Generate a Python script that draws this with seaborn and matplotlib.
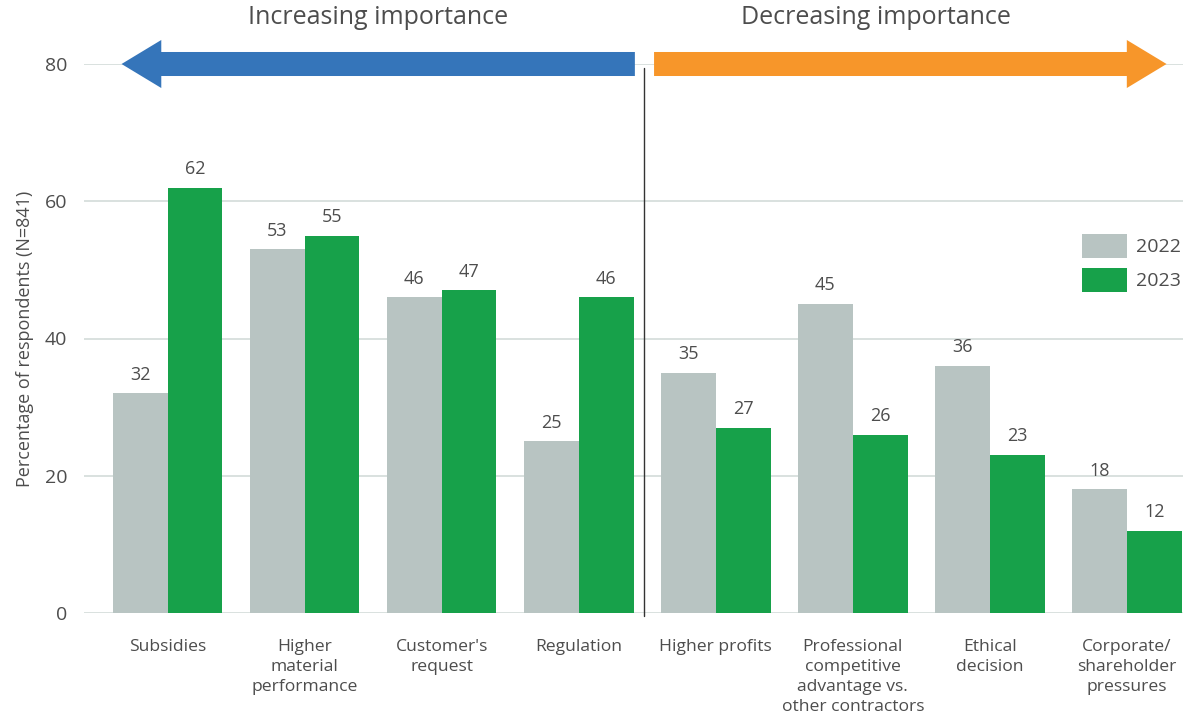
import matplotlib
matplotlib.use("Agg")
import matplotlib.pyplot as plt
from matplotlib.patches import FancyArrow, Patch
import seaborn as sns
import pandas as pd

# Motivations for sustainable choices, share of respondents per year
categories = [
    "Subsidies",
    "Higher\nmaterial\nperformance",
    "Customer's\nrequest",
    "Regulation",
    "Higher profits",
    "Professional\ncompetitive\nadvantage vs.\nother contractors",
    "Ethical\ndecision",
    "Corporate/\nshareholder\npressures",
]
values_2022 = [32, 53, 46, 25, 35, 45, 36, 18]
values_2023 = [62, 55, 47, 46, 27, 26, 23, 12]
years = ["2022", "2023"]
yticks = [0, 20, 40, 60, 80]
left_title = "Increasing importance"
right_title = "Decreasing importance"

df = pd.DataFrame({
    "category": categories * 2,
    "year": [years[0]] * len(categories) + [years[1]] * len(categories),
    "value": values_2022 + values_2023,
})

sns.set_theme(style="white")
plt.rcParams["font.family"] = ["Open Sans", "DejaVu Sans"]
text_color = "#4d4d4d"
grey = "#b8c4c2"
green = "#17a14a"
blue = "#3575ba"
orange = "#f7962a"

fig = plt.figure(figsize=(11.83, 7.19), dpi=100)
ax = fig.add_axes([84 / 1183, 1 - 613 / 719, 1 - 84 / 1183, (613 - 64) / 719])

sns.barplot(data=df, x="category", y="value", hue="year", order=categories,
            hue_order=years, palette=[grey, green], width=0.8, linewidth=0,
            saturation=1, ax=ax, legend=False)

for cont in ax.containers:
    ax.bar_label(cont, fmt="%d", padding=7, fontsize=13, color=text_color)

ax.set_ylim(0, 80)
ax.set_xlim(-0.61, 7.41)
ax.set_yticks(yticks)
ax.yaxis.grid(True, color="#d3dbd9", linewidth=1.2)
ax.set_axisbelow(True)
for s in ax.spines.values():
    s.set_visible(False)
ax.tick_params(axis="y", length=0, pad=12, labelsize=14, labelcolor=text_color)
ax.tick_params(axis="x", length=0, pad=19, labelsize=12.6, labelcolor=text_color)
for lbl in ax.get_xticklabels():
    lbl.set_linespacing(1.32)
ax.set_xlabel("")
ax.set_ylabel("Percentage of respondents (N=841)", fontsize=13, color=text_color,
              labelpad=8)

# Divider between the two groups of motivations
split = 3.48
ax.plot([split, split], [79.4, -0.4], color="#333333", linewidth=1, clip_on=False)

# Direction arrows above the plot
body_w = 3.5
head_w = 7.0
head_l = 0.29
ax.add_patch(FancyArrow(split - 0.07, 80, -(split - 0.07 + 0.336), 0, width=body_w,
                        head_width=head_w, head_length=head_l,
                        length_includes_head=True, color=blue, linewidth=0,
                        clip_on=False))
ax.add_patch(FancyArrow(split + 0.07, 80, 7.29 - (split + 0.07), 0, width=body_w,
                        head_width=head_w, head_length=head_l,
                        length_includes_head=True, color=orange, linewidth=0,
                        clip_on=False))
fig.text(378 / 1183, 1 - 18 / 719, left_title, ha="center", va="center",
         fontsize=18, color=text_color)
fig.text(876 / 1183, 1 - 18 / 719, right_title, ha="center", va="center",
         fontsize=18, color=text_color)

handles = [Patch(facecolor=grey, edgecolor="none"), Patch(facecolor=green, edgecolor="none")]
fig.legend(handles, years, loc="upper left",
           bbox_to_anchor=(1074 / 1183, 1 - 226 / 719), frameon=False,
           fontsize=14, labelcolor=text_color, handlelength=2.3, handleheight=1.5,
           handletextpad=0.5, labelspacing=0.55, borderaxespad=0, borderpad=0.4)

fig.savefig("out.png", dpi=100)
